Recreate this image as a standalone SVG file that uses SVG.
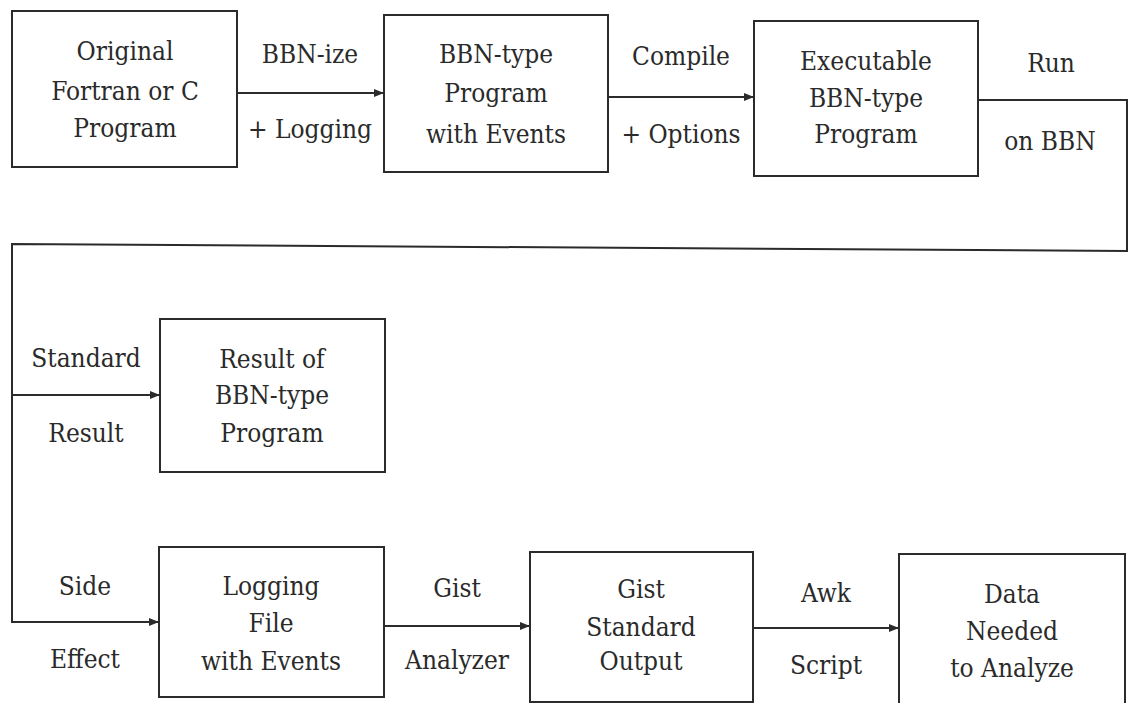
<svg xmlns="http://www.w3.org/2000/svg" width="1133" height="703" viewBox="0 0 1133 703">
<style>
.box{fill:none;stroke:#2b2b2b;stroke-width:2}
.ln{fill:none;stroke:#2b2b2b;stroke-width:2}
.t{font-family:"DejaVu Serif Condensed","DejaVu Serif",serif;font-stretch:condensed;font-size:26px;fill:#2a2a2a;text-anchor:middle}
</style>
<defs>
<marker id="ah" viewBox="0 0 10 8" refX="10" refY="4" markerWidth="10" markerHeight="8" markerUnits="userSpaceOnUse" orient="auto">
<path d="M0 0 L10 4 L0 8 Z" fill="#2b2b2b"/>
</marker>
</defs>
<rect width="1133" height="703" fill="#fff"/>
<g id="connectors">
<path class="ln" d="M237 93 H384" marker-end="url(#ah)"/>
<path class="ln" d="M608 97 H754" marker-end="url(#ah)"/>
<path class="ln" d="M978 100 H1127 V251 L12 244 V622 H159" marker-end="url(#ah)"/>
<path class="ln" d="M12 395 H160" marker-end="url(#ah)"/>
<path class="ln" d="M384 626 H530" marker-end="url(#ah)"/>
<path class="ln" d="M753 628 H899" marker-end="url(#ah)"/>
<g class="t">
<text x="310" y="63">BBN-ize</text>
<text x="310" y="138">+ Logging</text>
<text x="681" y="65">Compile</text>
<text x="681" y="143">+ Options</text>
<text x="1051" y="72">Run</text>
<text x="1050" y="150">on BBN</text>
<text x="86" y="367">Standard</text>
<text x="86" y="442">Result</text>
<text x="85" y="595">Side</text>
<text x="85" y="668">Effect</text>
<text x="457" y="597">Gist</text>
<text x="457" y="669">Analyzer</text>
<text x="826" y="602">Awk</text>
<text x="826" y="674">Script</text>
</g>
</g>
<g id="original" class="t">
<rect class="box" x="12" y="11" width="225" height="156"/>
<text x="125" y="60">Original</text>
<text x="125" y="100">Fortran or C</text>
<text x="125" y="137">Program</text>
</g>
<g id="bbn-program" class="t">
<rect class="box" x="384" y="15" width="224" height="157"/>
<text x="496" y="63">BBN-type</text>
<text x="496" y="102">Program</text>
<text x="496" y="143">with Events</text>
</g>
<g id="executable" class="t">
<rect class="box" x="754" y="21" width="224" height="155"/>
<text x="866" y="70">Executable</text>
<text x="866" y="107">BBN-type</text>
<text x="866" y="143">Program</text>
</g>
<g id="result" class="t">
<rect class="box" x="160" y="319" width="225" height="153"/>
<text x="272" y="368">Result of</text>
<text x="272" y="404">BBN-type</text>
<text x="272" y="442">Program</text>
</g>
<g id="logging" class="t">
<rect class="box" x="159" y="547" width="225" height="150"/>
<text x="271" y="595">Logging</text>
<text x="271" y="632">File</text>
<text x="271" y="670">with Events</text>
</g>
<g id="gist" class="t">
<rect class="box" x="530" y="552" width="223" height="150"/>
<text x="641" y="598">Gist</text>
<text x="641" y="636">Standard</text>
<text x="641" y="670">Output</text>
</g>
<g id="data" class="t">
<rect class="box" x="899" y="554" width="226" height="160"/>
<text x="1012" y="603">Data</text>
<text x="1012" y="640">Needed</text>
<text x="1012" y="677">to Analyze</text>
</g>
</svg>
